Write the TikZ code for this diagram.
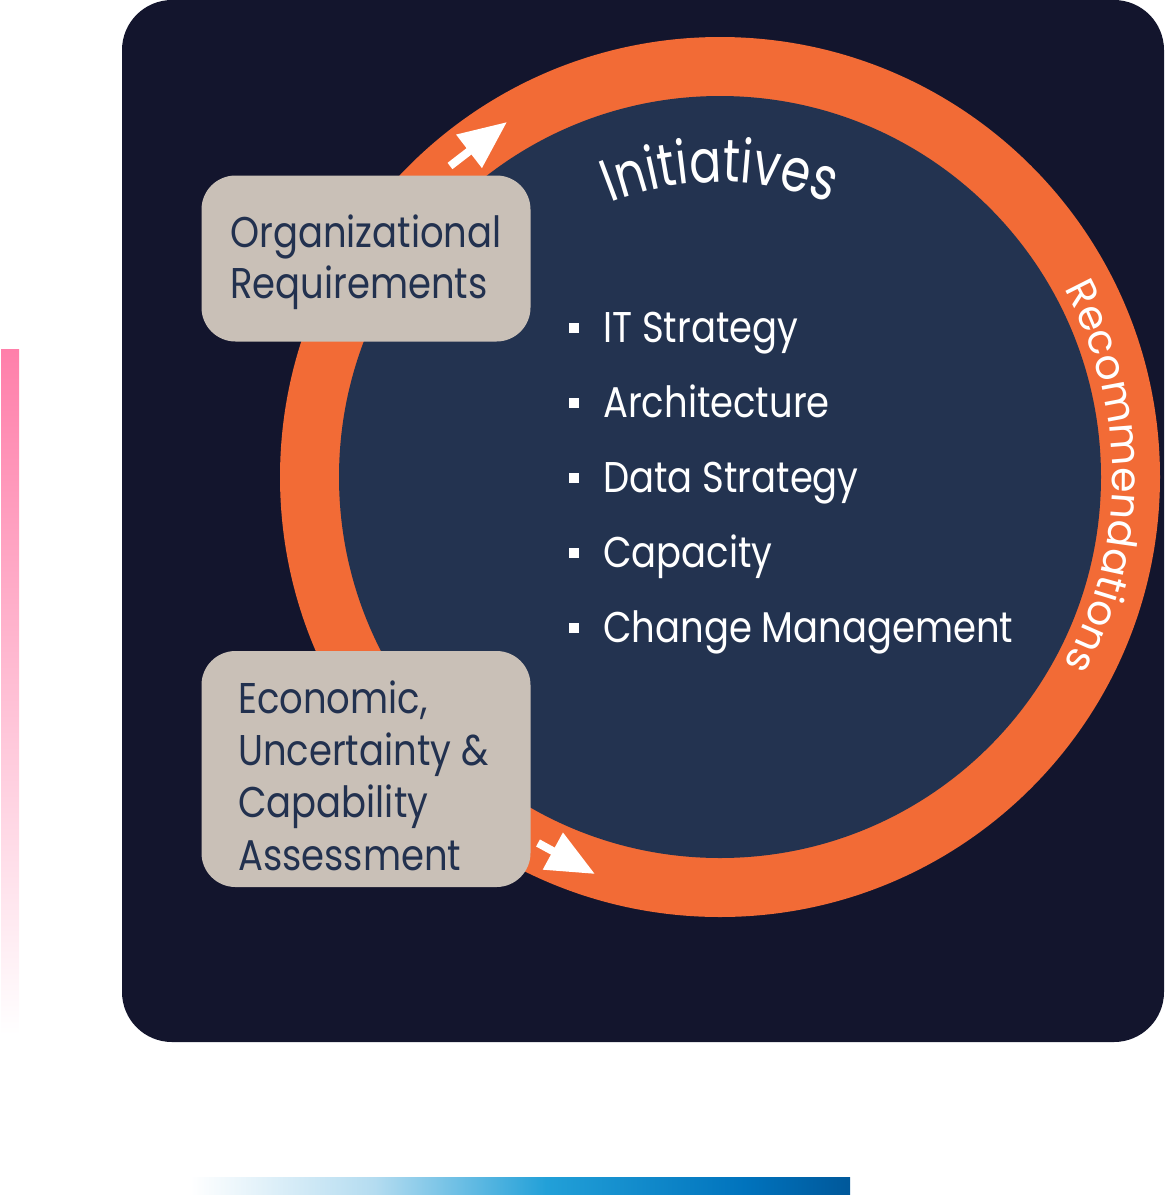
\documentclass[tikz,border=0pt]{standalone}
\usepackage{fontspec}
\setmainfont{Poppins}
\newfontfamily\mainf[FakeStretch=0.86]{Poppins}
\newfontfamily\titf[FakeStretch=0.79]{Poppins}
\newfontfamily\recf{Poppins}
\usetikzlibrary{decorations.text, arrows.meta}
\definecolor{bgdark}{HTML}{13152D}
\definecolor{navy}{HTML}{233350}
\definecolor{ringorange}{HTML}{F26B36}
\definecolor{beige}{HTML}{C9C0B7}
\definecolor{boxtext}{HTML}{22314F}
\definecolor{pinkbar}{HTML}{FF7FAA}
\definecolor{blueA}{HTML}{B4DCF0}
\definecolor{blueB}{HTML}{22A0D8}
\definecolor{blueC}{HTML}{0073BD}
\definecolor{blueD}{HTML}{00589A}
\pgfdeclarehorizontalshading{bluebar}{100bp}{color(0bp)=(white); color(25bp)=(white); color(39bp)=(blueA); color(52bp)=(blueB); color(67bp)=(blueC); color(75bp)=(blueD); color(100bp)=(blueD)}
\newcommand\initfont{\titf\fontsize{60}{60}\selectfont}
\newcommand\recfont{\recf\fontsize{41}{41}\selectfont}
\tikzset{
  box/.style={fill=beige, rounded corners=34pt, inner sep=0pt, minimum width=329pt},
  boxtxt/.style={anchor=base west, inner sep=0pt, text=boxtext, font=\mainf\fontsize{43}{52}\selectfont},
  bultxt/.style={anchor=base west, inner sep=0pt, text=white, font=\mainf\fontsize{43}{52}\selectfont},
  bulsq/.style={fill=white, inner sep=0pt, minimum size=10pt},
  wharrow/.style={white, line width=8pt, -{Triangle[length=48pt,width=40pt]}}
}
\begin{document}
\begin{tikzpicture}[x=1pt,y=1pt]
\useasboundingbox (0,0) rectangle (1165,-1195);
% side bars
\shade[top color=pinkbar, bottom color=white] (1,-349) rectangle (19,-1035);
\shade[shading=bluebar] (190,-1177) rectangle (850,-1195);
% dark panel
\fill[bgdark, rounded corners=50pt] (122,0) rectangle (1164,-1042);
% ring and disc
\coordinate (c) at (720,-477);
\fill[ringorange] (c) circle[radius=440];
\fill[navy] (c) circle[radius=381];
% curved titles
\path[decorate, decoration={text along path, text align=center, text={|\initfont\color{white}|Initiatives}}]
  (c) ++(150:295) arc[start angle=150, end angle=30, radius=295];
\path[decorate, decoration={text along path, text align=center, text={|\recfont\color{white}|Recommendations}}]
  (c) ++(60:392) arc[start angle=60, end angle=-60, radius=392];
% arrows
\coordinate (a1s) at (450,-166);
\coordinate (a1e) at (507,-122);
\coordinate (a2s) at (538,-843);
\coordinate (a2e) at (595,-874);
\draw[wharrow] (a1s) -- (a1e);
\draw[wharrow] (a2s) -- (a2e);
% boxes
\node[box, minimum height=166pt] (orgbox) at (366,-258.5) {};
\node[box, minimum height=236pt] (ecobox) at (366,-769) {};
\node[boxtxt] (org1) at (230,-247) {Organizational};
\node[boxtxt] (org2) at (230,-298) {Requirements};
\node[boxtxt] (eco1) at (238,-713) {Economic,};
\node[boxtxt] (eco2) at (238,-765) {Uncertainty \&};
\node[boxtxt] (eco3) at (238,-817) {Capability};
\node[boxtxt] (eco4) at (238,-870) {Assessment};
% bullets
\foreach \i/\t/\yy in {1/IT Strategy/342, 2/Architecture/417, 3/Data Strategy/492, 4/Capacity/567, 5/Change Management/642}{
  \node[bulsq] (sq\i) at (574,-\yy+14.5) {};
  \node[bultxt] (it\i) at (603,-\yy) {\t};
}
\end{tikzpicture}
\end{document}
